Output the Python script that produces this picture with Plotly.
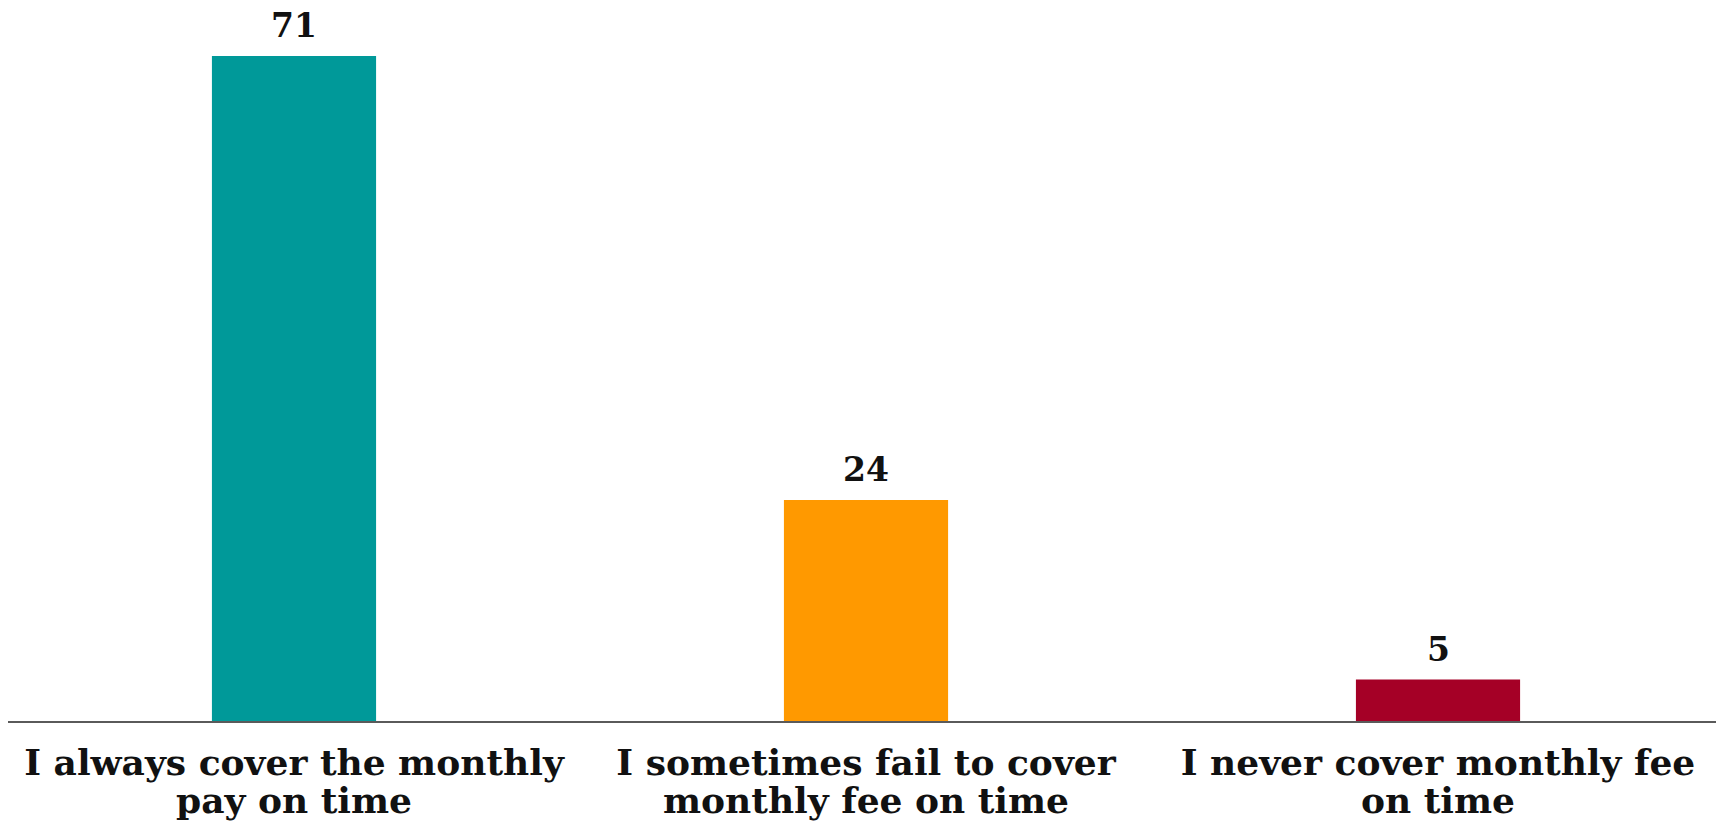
import plotly.graph_objects as go

categories = ["I always cover the monthly<br>pay on time",
              "I sometimes fail to cover<br>monthly fee on time",
              "I never cover monthly fee<br>on time"]
values = [71, 24, 5]
colors = ["#009999", "#FF9900", "#A50026"]

line1 = [c.split("<br>")[0] for c in categories]
line2 = [c.split("<br>")[1] for c in categories]
positions = list(range(len(categories)))

FONT = "DejaVu Serif"
TICKFONT = dict(family=FONT, size=36, color="#111111", weight="bold")

fig = go.Figure()
fig.add_trace(go.Bar(
    x=categories, y=values, marker_color=colors, marker_line_width=0,
    hoverinfo="skip", showlegend=False,
))
# invisible helper trace so the second-line label axis is drawn
fig.add_trace(go.Scatter(
    x=positions, y=values, xaxis="x2", mode="markers",
    marker=dict(opacity=0), hoverinfo="skip", showlegend=False,
))

for c, v in zip(categories, values):
    fig.add_annotation(x=c, y=v, text=f"<b>{v}</b>", showarrow=False,
                       yanchor="bottom", yshift=9,
                       font=dict(family=FONT, size=33, color="#111111"))

fig.update_layout(
    width=1708, height=814,
    margin=dict(l=0, r=0, t=0, b=101),
    paper_bgcolor="white", plot_bgcolor="white",
    bargap=0.713,
    font=dict(family=FONT, color="#111111"),
    xaxis=dict(showline=True, linecolor="#5a5a5a", linewidth=2,
               range=[-0.5, 2.486], automargin=False,
               tickmode="array", tickvals=categories, ticktext=line1,
               ticks="outside", ticklen=9, tickcolor="rgba(0,0,0,0)",
               tickfont=TICKFONT, showgrid=False, zeroline=False),
    xaxis2=dict(overlaying="x", anchor="y", side="bottom", type="linear",
                range=[-0.5, 2.486], automargin=False, showline=False,
                tickmode="array", tickvals=positions, ticktext=line2,
                ticks="outside", ticklen=48, tickcolor="rgba(0,0,0,0)",
                tickfont=TICKFONT, showgrid=False, zeroline=False),
    yaxis=dict(visible=False, range=[0.607, 76.08], automargin=False,
               showgrid=False, zeroline=False),
)

fig.write_html("out.html")
